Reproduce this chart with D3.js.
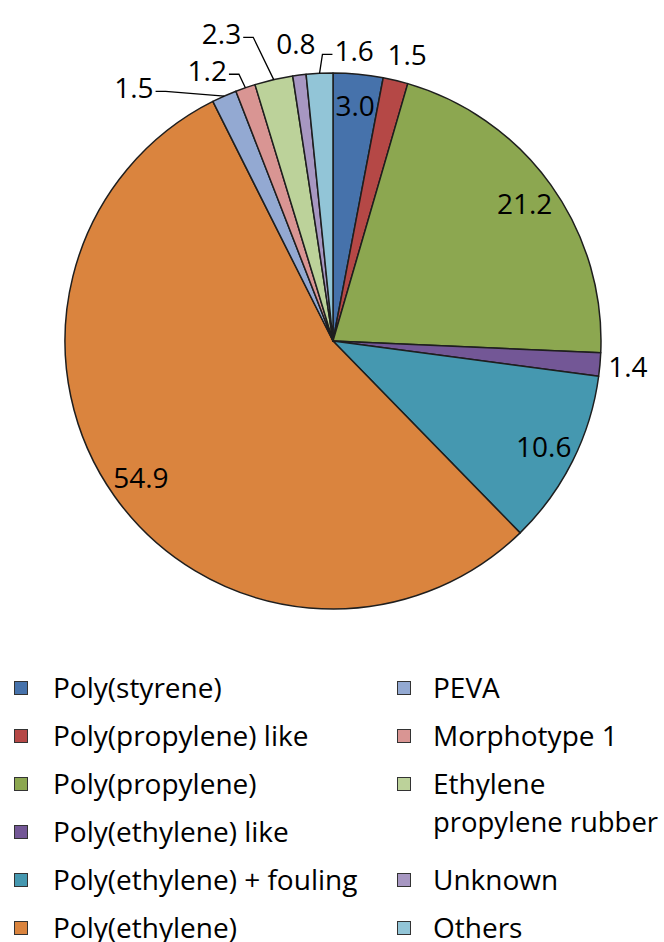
<!DOCTYPE html>
<html>
<head>
<meta charset="utf-8">
<script src="https://cdn.jsdelivr.net/npm/d3@7"></script>
<style>
  body { margin: 0; background: #fff; }
  text { font-family: "Open Sans", sans-serif; font-size: 28px; fill: #000; }
</style>
</head>
<body>
<div id="chart"></div>
<script>
// Data, clockwise from 12 o'clock
const categories = [
  "Poly(styrene)", "Poly(propylene) like", "Poly(propylene)", "Poly(ethylene) like",
  "Poly(ethylene) + fouling", "Poly(ethylene)", "PEVA", "Morphotype 1",
  "Ethylene propylene rubber", "Unknown", "Others"
];
const values = [3.0, 1.5, 21.2, 1.4, 10.6, 54.9, 1.5, 1.2, 2.3, 0.8, 1.6];
const colors = [
  "#4672ab", "#b54846", "#8ca750", "#735796", "#4598b0", "#da843e",
  "#93a9d2", "#d99593", "#bcd29a", "#a797c2", "#92c5d7"
];

const width = 664, height = 942;
const cx = 333, cy = 341, radius = 268;

// nudges for the crowded small labels (Excel moved them and drew leader lines)
const labelNudge = {
  "PEVA": [-79, 18],
  "Morphotype 1": [-29, 10],
  "Ethylene propylene rubber": [-46, -18],
  "Unknown": [0, -3],
  "Others": [36, 6],
  "Poly(propylene) like": [5, 2]
};

const data = categories.map((c, i) => ({ name: c, value: values[i], color: colors[i] }));

const svg = d3.select("#chart")
  .append("svg")
  .attr("width", width)
  .attr("height", height);

svg.append("rect").attr("width", width).attr("height", height).attr("fill", "#fff");

const g = svg.append("g").attr("transform", `translate(${cx},${cy})`);

const arcs = d3.pie().sort(null).value(d => d.value)(data);
const arc = d3.arc().innerRadius(0).outerRadius(radius);

g.selectAll("path.slice")
  .data(arcs)
  .join("path")
  .attr("class", "slice")
  .attr("d", arc)
  .attr("fill", d => d.data.color)
  .attr("stroke", "#1e1e1e")
  .attr("stroke-width", 1.5)
  .attr("stroke-linejoin", "round");

const polar = (a, r) => [r * Math.sin(a), -r * Math.cos(a)];

// Labels
arcs.forEach(d => {
  const mid = (d.startAngle + d.endAngle) / 2;
  const inside = d.data.value >= 3;
  let [x, y] = polar(mid, inside ? radius * 0.88 : radius + 28);
  const nudge = labelNudge[d.data.name];
  if (!inside && nudge) { x += nudge[0]; y += nudge[1]; }

  const t = g.append("text")
    .attr("x", x)
    .attr("y", y + 10)
    .attr("text-anchor", "middle")
    .text(d3.format(".1f")(d.data.value));

  // leader line when label was moved far from its slice
  if (!inside && nudge && Math.hypot(nudge[0], nudge[1]) > 12) {
    const w = t.node().getComputedTextLength();
    const [ex, ey] = polar(mid, radius);
    const ly = y + 3;
    let xe, xb;
    if (x < ex) { xe = x + w / 2 + 2; xb = xe + 10; }
    else { xe = x - w / 2 - 2; xb = xe - 10; }
    g.append("path")
      .attr("d", d3.line()([[ex, ey], [xb, ly], [xe, ly]]))
      .attr("fill", "none")
      .attr("stroke", "#000")
      .attr("stroke-width", 1.3);
  }
});

// Legend: two columns, entries wrap to fit
const legendTop = 688, rowStep = 48, lineStep = 38;
const columns = [
  { markerX: 14, textX: 53, items: data.slice(0, 6) },
  { markerX: 397, textX: 433, items: data.slice(6) }
];
const legend = svg.append("g");

function wrapLines(str, maxW) {
  const probe = legend.append("text");
  const words = str.split(" ");
  const lines = [];
  let cur = "";
  words.forEach(w => {
    const test = cur ? cur + " " + w : w;
    probe.text(test);
    if (probe.node().getComputedTextLength() > maxW && cur) {
      lines.push(cur);
      cur = w;
    } else cur = test;
  });
  lines.push(cur);
  probe.remove();
  return lines;
}

columns.forEach(col => {
  let row = 0;
  const avail = width - col.textX - 6;
  col.items.forEach(item => {
    const yc = legendTop + row * rowStep;
    legend.append("rect")
      .attr("x", col.markerX + 0.5)
      .attr("y", yc - 6.5)
      .attr("width", 13)
      .attr("height", 13)
      .attr("fill", item.color)
      .attr("stroke", "#333")
      .attr("stroke-width", 1);
    const lines = wrapLines(item.name, avail + 20);
    lines.forEach((ln, k) => {
      const t = legend.append("text")
        .attr("x", col.textX)
        .attr("y", yc + 10 + k * lineStep)
        .text(ln);
      if (t.node().getComputedTextLength() > avail) {
        t.attr("textLength", avail).attr("lengthAdjust", "spacingAndGlyphs");
      }
    });
    row += lines.length;
  });
});
</script>
</body>
</html>
